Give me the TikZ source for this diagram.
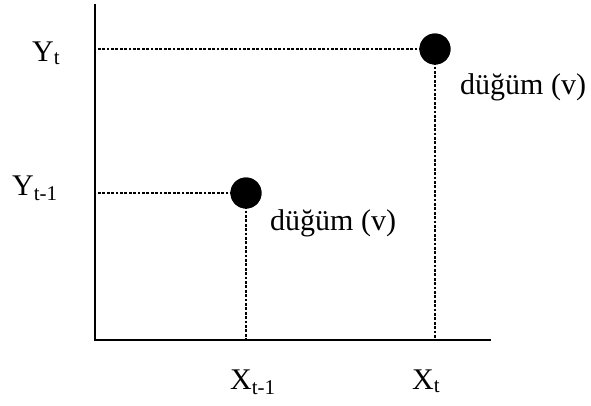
\documentclass[tikz,border=0pt]{standalone}
\usepackage{fontspec}
\setmainfont{Liberation Serif}
\usetikzlibrary{positioning}

\begin{document}
\begin{tikzpicture}[x=1pt,y=-1pt,
	axis/.style={line width=1.6pt,line cap=rect},
	guide/.style={line width=1.3pt,dash pattern=on 2.8pt off 1.6pt},
	vertex/.style={circle,fill=black,inner sep=0pt,minimum size=31pt},
	lbl/.style={anchor=base west,inner sep=0pt,font=\fontsize{30}{34}\selectfont}]
\useasboundingbox (0,0) rectangle (591,405);
\coordinate (top) at (95,5);
\coordinate (origin) at (95,340);
\coordinate (right) at (490,340);
\node[vertex] (v1) at (246,193) {};
\node[vertex] (v2) at (435,49) {};
\draw[guide] (v1.center) -- (v1 -| origin);
\draw[guide] (v1.center) -- (v1 |- origin);
\draw[guide] (v2.center) -- (v2 -| origin);
\draw[guide] (v2.center) -- (v2 |- origin);
\node[vertex] at (v1) {};
\node[vertex] at (v2) {};
\draw[axis] (top) -- (origin) -- (right);
\node[lbl] (yt) at (32,61) {Y\textsubscript{t}};
\node[lbl] (yt1) at (12,195) {Y\textsubscript{t-1}};
\node[lbl] (xt1) at (230,389) {X\textsubscript{t-1}};
\node[lbl] (xt) at (412,389) {X\textsubscript{t}};
\node[lbl] (name2) at (460,94) {düğüm (v)};
\node[lbl] (name1) at (270,230) {düğüm (v)};
\end{tikzpicture}
\end{document}
